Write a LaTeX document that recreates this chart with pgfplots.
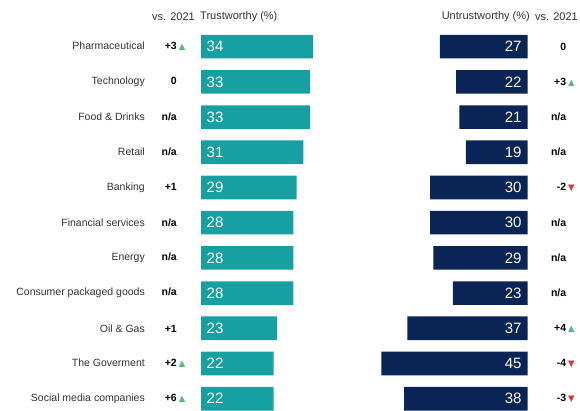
\documentclass[border=0pt]{standalone}
\usepackage{fontspec}
\setmainfont{Liberation Sans}
\newfontfamily\sym{DejaVu Sans}
\usepackage{pgfplots}
\usepackage{pgfplotstable}
\pgfplotsset{compat=1.18}
\definecolor{tealbar}{HTML}{17A0A2}
\definecolor{navybar}{HTML}{0A2456}
\definecolor{upgreen}{HTML}{5CB97C}
\definecolor{downred}{HTML}{D8383C}
\definecolor{txt}{HTML}{333333}
\newcommand{\up}{\textcolor{upgreen}{\sym\fontsize{8.5}{9}\selectfont ▲}}
\newcommand{\dn}{\textcolor{downred}{\sym\fontsize{8.5}{9}\selectfont ▼}}
\newcommand{\lab}[3]{\makebox[0pt][r]{\fontsize{10.5}{12}\selectfont\color{txt}#1}\kern32pt\makebox[0pt][r]{\bfseries\fontsize{10.5}{12}\selectfont #2}\rlap{\kern2pt#3}\kern24pt\relax}
\newcommand{\rlab}[2]{\kern38.3pt\makebox[0pt][r]{\bfseries\fontsize{10.5}{12}\selectfont #1}\rlap{\kern2pt#2}}
\pgfplotstableread{
idx trust untrust
0 34 27
1 33 22
2 33 21
3 31 19
4 29 30
5 28 30
6 28 29
7 28 23
8 23 37
9 22 45
10 22 38
}\data
\begin{document}
\begin{tikzpicture}
\useasboundingbox (0,0) rectangle (580pt,411pt);
\pgfplotsset{
  common/.style={
    scale only axis, clip=false,
    y dir=reverse, ymin=-0.5, ymax=10.5, height=387.2pt,
    hide x axis, ytick={0,...,10},
    y axis line style={draw=none}, ytick style={draw=none},
    major tick length=0pt,
    yticklabel style={inner sep=0pt},
    /pgf/number format/assume math mode=true,
  }
}
\begin{axis}[common,
  at={(201pt,381.9pt)}, anchor=north west,
  xmin=0, xmax=40, width=132pt,
  axis y line*=left,
  yticklabel style={anchor=east},
  yticklabels={
    {\lab{Pharmaceutical}{+3}{\up}},
    {\lab{Technology}{0}{}},
    {\lab{Food \& Drinks}{n/a}{}},
    {\lab{Retail}{n/a}{}},
    {\lab{Banking}{+1}{}},
    {\lab{Financial services}{n/a}{}},
    {\lab{Energy}{n/a}{}},
    {\lab{Consumer packaged goods}{n/a}{}},
    {\lab{Oil \& Gas}{+1}{}},
    {\lab{The Goverment}{+2}{\up}},
    {\lab{Social media companies}{+6}{\up}}
  }]
\addplot[xbar, bar width=23.6pt, bar shift=0pt, fill=tealbar, draw=none]
  table[x=trust, y=idx] {\data};
\addplot[draw=none, mark=none, nodes near coords, point meta=explicit,
  nodes near coords style={anchor=west, xshift=5.5pt, inner sep=0pt, text=white, font=\fontsize{15}{16}\selectfont}]
  table[x expr=0, y=idx, meta=trust] {\data};
\end{axis}
\begin{axis}[common,
  at={(527.7pt,381.9pt)}, anchor=north east,
  x dir=reverse, xmin=0, xmax=50, width=162.5pt,
  axis y line*=right,
  yticklabel style={anchor=west},
  yticklabels={
    {\rlab{0}{}},
    {\rlab{+3}{\up}},
    {\rlab{n/a}{}},
    {\rlab{n/a}{}},
    {\rlab{-2}{\dn}},
    {\rlab{n/a}{}},
    {\rlab{n/a}{}},
    {\rlab{n/a}{}},
    {\rlab{+4}{\up}},
    {\rlab{-4}{\dn}},
    {\rlab{-3}{\dn}}
  }]
\addplot[xbar, bar width=23.6pt, bar shift=0pt, fill=navybar, draw=none]
  table[x=untrust, y=idx] {\data};
\addplot[draw=none, mark=none, nodes near coords, point meta=explicit,
  nodes near coords style={anchor=east, xshift=-6pt, inner sep=0pt, text=white, font=\fontsize{15}{16}\selectfont}]
  table[x expr=0, y=idx, meta=untrust] {\data};
\end{axis}
\begin{scope}[every node/.style={inner sep=0pt, text=txt, font=\fontsize{11}{13}\selectfont}]
\node[anchor=east] at (195pt,394.3pt) {vs. 2021};
\node[anchor=west] at (200pt,394.3pt) {Trustworthy (\%)};
\node[anchor=east] at (530pt,394.3pt) {Untrustworthy (\%)};
\node[anchor=west] at (535pt,394.3pt) {vs. 2021};
\end{scope}
\end{tikzpicture}
\end{document}
